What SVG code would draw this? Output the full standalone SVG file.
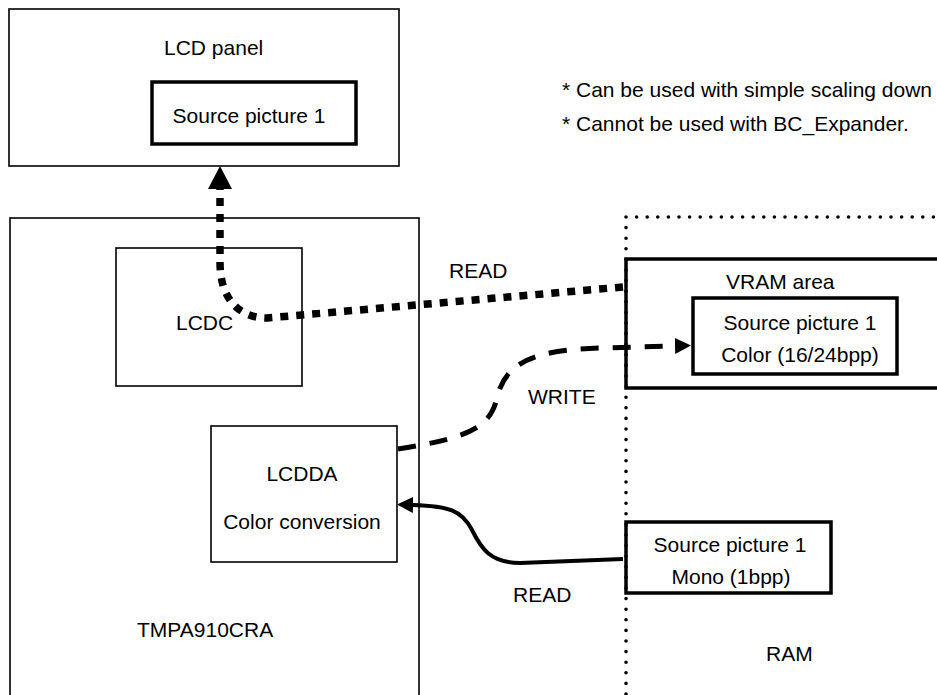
<svg xmlns="http://www.w3.org/2000/svg" width="937" height="695" viewBox="0 0 937 695">
<style>
text{font-family:"Liberation Sans",Arial,sans-serif;font-size:21px;fill:#000}
.thin{fill:#fff;stroke:#000;stroke-width:1.6}
.thick{fill:none;stroke:#000;stroke-width:3.5}
.mid{text-anchor:middle}
.ram{fill:none;stroke:#000;stroke-width:3.6;stroke-linecap:round;stroke-dasharray:0 10.6}
.c{fill:none;stroke:#000}
</style>
<defs>
<marker id="ahBig" markerUnits="userSpaceOnUse" markerWidth="23" markerHeight="24" viewBox="0 0 23 24" refX="0" refY="12" orient="auto"><path d="M0,0 L23,12 L0,24 z" fill="#000"/></marker>
<marker id="ahSmall" markerUnits="userSpaceOnUse" markerWidth="16" markerHeight="16" viewBox="0 0 16 16" refX="0" refY="8" orient="auto"><path d="M0,0 L16,8 L0,16 z" fill="#000"/></marker>
</defs>
<rect width="937" height="695" fill="#fff"/>

<g id="lcd-panel">
<rect class="thin" x="9" y="9" width="390" height="157"/>
<text x="164" y="55">LCD panel</text>
</g>
<g id="lcd-source">
<rect class="thick" x="152" y="82" width="204" height="62"/>
<text class="mid" x="249" y="123">Source picture 1</text>
</g>

<g id="notes">
<text x="562" y="97">* Can be used with simple scaling down</text>
<text x="562" y="131">* Cannot be used with BC_Expander.</text>
</g>

<g id="tmpa910cra">
<rect class="thin" x="10" y="218" width="409" height="490"/>
<text x="137" y="637">TMPA910CRA</text>
</g>
<g id="lcdc">
<rect class="thin" x="116" y="248" width="186" height="138"/>
<text x="176" y="330">LCDC</text>
</g>
<g id="lcdda">
<rect class="thin" x="211" y="426" width="186" height="136"/>
<text class="mid" x="302" y="481">LCDDA</text>
<text class="mid" x="302" y="529">Color conversion</text>
</g>

<g id="ram">
<path class="ram" d="M626 217 L940 217 M626 217 L626 700"/>
<text x="766" y="661">RAM</text>
</g>
<g id="vram-area">
<rect class="thick" x="626" y="259" width="320" height="129"/>
<text x="726" y="289">VRAM area</text>
</g>
<g id="vram-source">
<rect class="thick" x="693" y="298" width="204" height="76"/>
<text class="mid" x="800" y="330">Source picture 1</text>
<text class="mid" x="800" y="362">Color (16/24bpp)</text>
</g>
<g id="mono-source">
<rect class="thick" x="626" y="522" width="205" height="71"/>
<text class="mid" x="730" y="552">Source picture 1</text>
<text class="mid" x="731" y="584">Mono (1bpp)</text>
</g>

<g id="connectors">
<path class="c" stroke-width="7.5" stroke-dasharray="8 8" d="M623 287 L267 318 C240 318 220 300 220 262 L220 189" marker-end="url(#ahBig)"/>
<path class="c" stroke-width="5" stroke-dasharray="18 14" d="M398 449 C468 438 490 428 497 398 C505 362 535 350 600 348 L675 346" marker-end="url(#ahSmall)"/>
<path class="c" stroke-width="4" d="M623 559 L520 563 C490 563 481 548 472 530 C462 510 448 506 413 505" marker-end="url(#ahSmall)"/>
<text x="449" y="278">READ</text>
<text x="528" y="404">WRITE</text>
<text x="513" y="602">READ</text>
</g>
</svg>
